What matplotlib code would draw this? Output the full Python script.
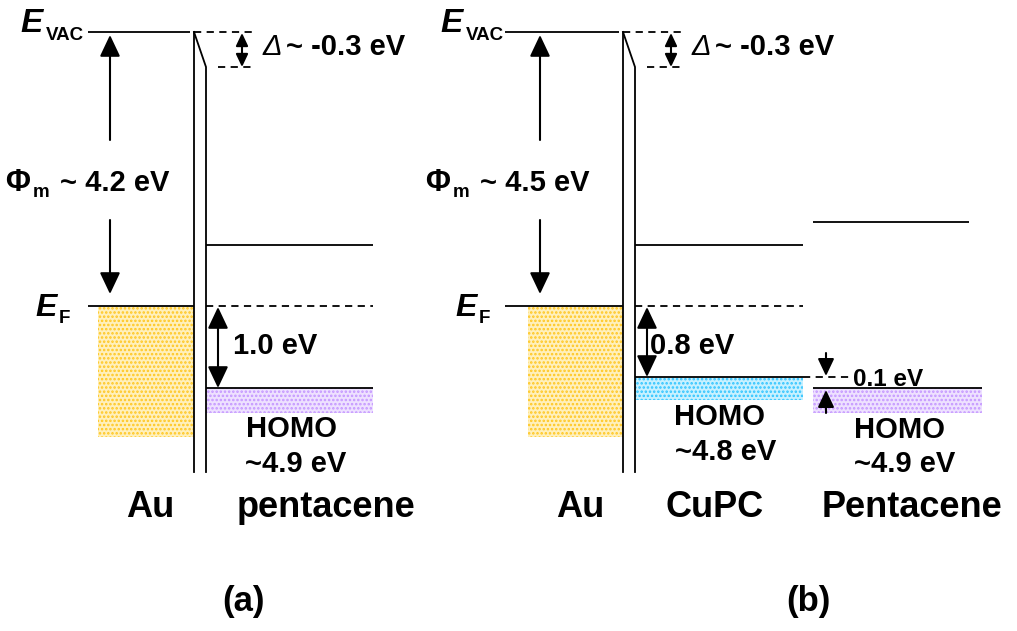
import matplotlib.pyplot as plt
from matplotlib.patches import Rectangle

plt.rcParams['font.family'] = ['Liberation Sans', 'DejaVu Sans']
plt.rcParams['hatch.linewidth'] = 1.2

# text content
materials_a = ['Au', 'pentacene']
materials_b = ['Au', 'CuPC', 'Pentacene']
work_func = ['4.2', '4.5']
dipole = '-0.3'
hole_barrier = ['1.0', '0.8']
homo_text_a = ['~4.9 eV']
homo_text_b = ['~4.8 eV', '~4.9 eV']
homo_offset_b = '0.1'
panel_tags = ['(a)', '(b)']

# schematic level positions (diagram units, downward = deeper)
vac = 32
vac_shifted = 67
ef = 306
metal_bottom = 437
lumo_a = [245]
homo_a = [388]
lumo_b = [245, 222]
homo_b = [377, 388]
homo_band = [25, 23, 25]   # depth of shaded HOMO bands: pentacene(a), CuPC, pentacene(b)

gold = ('#FFF0BC', '#FFC61F')
cyan = ('#C8F1FF', '#2EC4FF')
violet = ('#EEE1FF', '#C496FF')

fig = plt.figure(figsize=(10.17, 6.31), dpi=100)
ax = fig.add_axes([0, 0, 1, 1])
ax.set_xlim(0, 1017)
ax.set_ylim(631, 0)
ax.axis('off')

LW = 1.3


def hline(y, x0, x1, dashed=False):
    ax.plot([x0, x1], [y, y], color='k', lw=LW, ls=(0, (4, 3)) if dashed else '-',
            solid_capstyle='butt')


def arrow(x, y_from, y_to, style='-|>', m=24):
    ax.annotate('', xy=(x, y_to), xytext=(x, y_from),
                arrowprops=dict(arrowstyle=style + ',head_width=0.26,head_length=0.55',
                                lw=1.5, color='k', mutation_scale=m,
                                shrinkA=0, shrinkB=0))


def band(x0, x1, y0, depth, colors):
    ax.add_patch(Rectangle((x0, y0), x1 - x0, depth, facecolor=colors[0],
                           edgecolor=colors[1], hatch='....', lw=0, zorder=0))


def metal_side(x0, xl, xbox, xi, phi, tag_x):
    # E_VAC and E_F labels
    ax.text(x0, 32, 'E', fontsize=24, fontweight='bold', style='italic', va='baseline')
    ax.text(x0 + 26, 40, 'VAC', fontsize=13.5, fontweight='bold', va='baseline')
    ax.text(x0 + 15, 316, 'E', fontsize=23, fontweight='bold', style='italic', va='baseline')
    ax.text(x0 + 39, 323, 'F', fontsize=13.5, fontweight='bold', va='baseline')
    hline(vac, xl, xi - 4)
    hline(ef, xl, xi)
    band(xbox, xi, ef, metal_bottom - ef, gold)
    # interface
    ax.plot([xi, xi], [vac, 472], color='k', lw=LW)
    ax.plot([xi, xi + 12, xi + 12], [vac, vac_shifted, 472], color='k', lw=LW)
    # work function
    arrow(tag_x, 140, vac + 3)
    arrow(tag_x, 220, ef - 12)
    ax.text(x0 - 15, 191, '\u03a6', fontsize=22, fontweight='bold', va='baseline')
    ax.text(x0 + 13, 197, 'm', fontsize=13.5, fontweight='bold', va='baseline')
    ax.text(x0 + 40, 191, '~ ' + phi + ' eV', fontsize=21, fontweight='bold', va='baseline')
    # vacuum level shift
    xd = xi + 12
    hline(vac, xi, xd + 48, dashed=True)
    hline(vac_shifted, xd + 12, xd + 48, dashed=True)
    arrow(xd + 36, vac_shifted, vac + 1, style='<|-|>', m=14)
    ax.text(xd + 57, 55, '\u0394', fontsize=21, style='italic', va='baseline')
    ax.text(xd + 80, 55, '~ ' + dipole + ' eV', fontsize=21, fontweight='bold', va='baseline')


# ---- panel (a) ----
metal_side(20, 88, 98, 194, work_func[0], 110)
hline(lumo_a[0], 206, 373)
hline(ef, 206, 373, dashed=True)
hline(homo_a[0], 206, 373)
band(206, 373, homo_a[0], homo_band[0], violet)
arrow(218, homo_a[0], ef + 1, style='<|-|>')
ax.text(233, 354, hole_barrier[0] + ' eV', fontsize=21, fontweight='bold', va='baseline')
ax.text(291, 437, 'HOMO', fontsize=21, fontweight='bold', ha='center', va='baseline')
ax.text(296, 472, homo_text_a[0], fontsize=21, fontweight='bold', ha='center', va='baseline')
ax.text(150, 517, materials_a[0], fontsize=26, fontweight='bold', ha='center', va='baseline')
ax.text(326, 517, materials_a[1], fontsize=26, fontweight='bold', ha='center', va='baseline')
ax.text(244, 611, panel_tags[0], fontsize=25, fontweight='bold', ha='center', va='baseline')

# ---- panel (b) ----
metal_side(440, 505, 528, 623, work_func[1], 540)
hline(lumo_b[0], 635, 803)
hline(lumo_b[1], 813, 969)
hline(ef, 635, 803, dashed=True)
hline(homo_b[0], 635, 803)
band(635, 803, homo_b[0], homo_band[1], cyan)
hline(homo_b[0], 803, 852, dashed=True)
hline(homo_b[1], 813, 982)
band(813, 982, homo_b[1], homo_band[2], violet)
arrow(647, homo_b[0], ef + 1, style='<|-|>')
ax.text(650, 354, hole_barrier[1] + ' eV', fontsize=21, fontweight='bold', va='baseline')
arrow(826, homo_b[0] - 24, homo_b[0] - 1, m=19)
arrow(826, homo_b[1] + 25, homo_b[1] + 2, m=19)
ax.text(853, 386, homo_offset_b + ' eV', fontsize=17.5, fontweight='bold', va='baseline')
ax.text(720, 425, 'HOMO', fontsize=21, fontweight='bold', ha='center', va='baseline')
ax.text(726, 460, homo_text_b[0], fontsize=21, fontweight='bold', ha='center', va='baseline')
ax.text(899, 438, 'HOMO', fontsize=21, fontweight='bold', ha='center', va='baseline')
ax.text(905, 472, homo_text_b[1], fontsize=21, fontweight='bold', ha='center', va='baseline')
ax.text(580, 517, materials_b[0], fontsize=26, fontweight='bold', ha='center', va='baseline')
ax.text(715, 517, materials_b[1], fontsize=26, fontweight='bold', ha='center', va='baseline')
ax.text(912, 517, materials_b[2], fontsize=26, fontweight='bold', ha='center', va='baseline')
ax.text(808, 611, panel_tags[1], fontsize=25, fontweight='bold', ha='center', va='baseline')

fig.savefig('out.png', dpi=100, facecolor='white')
